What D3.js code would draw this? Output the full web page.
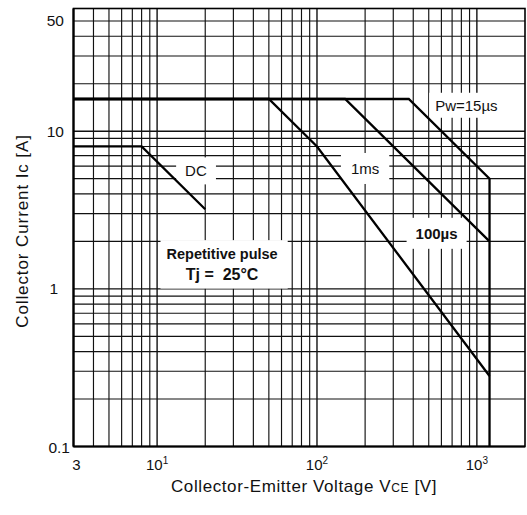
<!DOCTYPE html>
<html><head><meta charset="utf-8">
<script src="https://cdn.jsdelivr.net/npm/d3@7"></script>
<style>
html,body{margin:0;padding:0;background:#fff;}
svg text{font-family:"Liberation Sans",Arial,sans-serif;fill:#111;white-space:pre;}
</style></head>
<body><svg id="c" width="527" height="515"></svg>
<script>
// ---- data ----
const xDomain = [3, 2000];
const yDomain = [0.1, 60];
const xGrid = [4,5,6,7,8,9,10,20,30,40,50,60,70,80,90,100,200,300,400,500,600,700,800,900,1000];
const yGrid = [0.2,0.3,0.4,0.5,0.6,0.7,0.8,0.9,1,2,3,4,5,6,7,8,9,10,20,30,40,50];
const xTicks = [{v:3, t:"3"}, {v:10, t:"10", s:"1"}, {v:100, t:"10", s:"2"}, {v:1000, t:"10", s:"3"}];
const yTicks = [{v:50, t:"50"}, {v:10, t:"10"}, {v:1, t:"1"}, {v:0.1, t:"0.1"}];
const curveDC    = [[3,8],[8,8],[20,3.2]];
const curve1ms   = [[3,16],[50,16],[100,8],[1200,0.28]];
const curve100us = [[3,16],[150,16],[1200,2]];
const curve15us  = [[3,16],[375,16],[1200,5],[1200,0.1]];
const labels = [
  {x:17.5, y:5.6, t:"DC", w:"normal", px:9, py:5},
  {x:200, y:5.8, t:"1ms", w:"normal", px:10, py:7},
  {x:560, y:2.25, t:"100µs", w:"bold", px:9, py:7},
  {x:860, y:14.6, t:"Pw=15µs", w:"normal", px:6, py:4}
];
const noteLines = ["Repetitive pulse", "Tj =  25°C"];
const notePos = {x:25.5, y1:1.66, y2:1.24};

// ---- layout ----
const svg = d3.select("#c");
const L = 73.5, R = 525, T = 8.5, B = 446.5;
const x = d3.scaleLog().domain(xDomain).range([L, R]);
const y = d3.scaleLog().domain(yDomain).range([B, T]);

const g = svg.append("g");
// grid
g.selectAll(".vx").data(xGrid).join("line")
  .attr("x1", d => x(d)).attr("x2", d => x(d)).attr("y1", T).attr("y2", B)
  .attr("stroke", "#111").attr("stroke-width", d => [10,100,1000].includes(d) ? 1.4 : 1.15);
g.selectAll(".hy").data(yGrid).join("line")
  .attr("y1", d => y(d)).attr("y2", d => y(d)).attr("x1", L).attr("x2", R)
  .attr("stroke", "#111").attr("stroke-width", d => [1,10].includes(d) ? 1.4 : 1.15);

// label backgrounds + labels
const line = d3.line().x(d => x(d[0])).y(d => y(d[1]));
const lab = g.append("g");
labels.forEach(l => {
  const t = lab.append("text").attr("x", x(l.x)).attr("y", y(l.y)).attr("text-anchor","middle")
    .attr("dominant-baseline","central").attr("font-size", 15).attr("font-weight", l.w).text(l.t);
  const bb = t.node().getBBox();
  lab.insert("rect", "text").attr("x", bb.x-l.px).attr("y", bb.y-l.py).attr("width", bb.width+2*l.px).attr("height", bb.height+2*l.py).attr("fill","#fff");
});
const n1 = lab.append("text").attr("x", x(notePos.x)).attr("y", y(notePos.y1)).attr("text-anchor","middle")
  .attr("dominant-baseline","central").attr("font-size", 14.5).attr("font-weight","bold").text(noteLines[0]);
const n2 = lab.append("text").attr("x", x(notePos.x)).attr("y", y(notePos.y2)).attr("text-anchor","middle")
  .attr("dominant-baseline","central").attr("font-size", 16).attr("font-weight","bold").text(noteLines[1]);
const b1 = n1.node().getBBox(), b2 = n2.node().getBBox();
lab.insert("rect", "text").attr("x", Math.min(b1.x,b2.x)-6).attr("y", b1.y-6)
  .attr("width", Math.max(b1.width,b2.width)+16).attr("height", b2.y+b2.height-b1.y+12).attr("fill","#fff");

// curves
[curveDC, curve1ms, curve100us, curve15us].forEach(c => {
  g.append("path").attr("d", line(c)).attr("fill","none").attr("stroke","#000").attr("stroke-width", 2.3)
    .attr("stroke-linejoin","miter");
});

// frame
g.append("rect").attr("x", L).attr("y", T).attr("width", R-L).attr("height", B-T)
  .attr("fill","none").attr("stroke","#000").attr("stroke-width", 1.6);
g.append("line").attr("x1", L).attr("x2", L).attr("y1", T).attr("y2", B).attr("stroke","#000").attr("stroke-width", 2.2);
g.append("line").attr("x1", L).attr("x2", R).attr("y1", B).attr("y2", B).attr("stroke","#000").attr("stroke-width", 2.2);

// tick labels
xTicks.forEach(d => {
  const t = svg.append("text").attr("x", x(d.v) + (d.v===3 ? 3 : 0)).attr("y", 470).attr("text-anchor","middle")
    .attr("font-size", 15).text(d.t);
  if (d.s) t.append("tspan").attr("dy", -6).attr("font-size", 10).text(d.s);
});
yTicks.forEach(d => {
  svg.append("text").attr("x", d.v===0.1 ? 70 : (d.v===1 ? 58 : 64)).attr("y", y(d.v) + (d.v===0.1 ? 1 : 0))
    .attr("text-anchor","end").attr("dominant-baseline","central").attr("font-size", 15.5).text(d.t);
});

// axis titles
const xt = svg.append("text").attr("x", 304).attr("y", 492).attr("text-anchor","middle")
  .attr("font-size", 17).attr("letter-spacing", 0.6);
xt.append("tspan").text("Collector-Emitter Voltage V");
xt.append("tspan").attr("font-size", 12).text("CE");
xt.append("tspan").text(" [V]");
const yt = svg.append("text").attr("transform", "translate(28,231) rotate(-90)").attr("text-anchor","middle")
  .attr("font-size", 17).attr("letter-spacing", 0.9);
yt.append("tspan").text("Collector Current Ic [A]");
</script></body></html>
